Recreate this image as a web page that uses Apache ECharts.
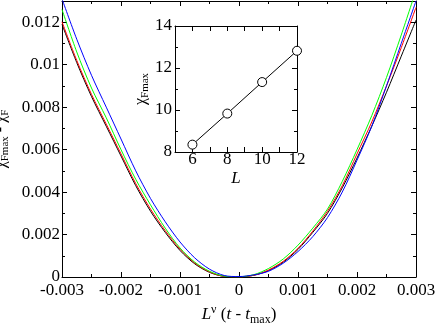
<!DOCTYPE html>
<html>
<head>
<meta charset="utf-8">
<script src="https://cdn.jsdelivr.net/npm/echarts@6/dist/echarts.min.js"></script>
<style>
  html, body { margin: 0; padding: 0; background: #fff; }
  #chart { width: 436px; height: 323px; }
</style>
</head>
<body>
<div id="chart"></div>
<script>
// main plot: chi_Fmax - chi_F vs L^nu (t - t_max)
const xVals = [-0.003, -0.00275, -0.0025, -0.00225, -0.002, -0.00175, -0.0015, -0.00125, -0.001, -0.00075, -0.0005, -0.00025,
  0, 0.00025, 0.0005, 0.00075, 0.001, 0.00125, 0.0015, 0.00175, 0.002, 0.00225, 0.0025, 0.00275, 0.003];
const blackVals = [0.0119, 0.0101, 0.0085, 0.0071, 0.0057, 0.0043, 0.0031, 0.0021, 0.00125, 0.00062, 0.00022, 0.00003,
  0.00001, 0.00008, 0.0003, 0.0007, 0.0013, 0.0021, 0.0030, 0.0042, 0.0056, 0.0071, 0.0087, 0.0104, 0.0121];
const redVals = [0.01202, 0.0102, 0.0086, 0.0072, 0.0058, 0.0044, 0.0032, 0.00218, 0.00131, 0.00066, 0.00024, 0.00003,
  0.00001, 0.00008, 0.00033, 0.00074, 0.00135, 0.00216, 0.0031, 0.0043, 0.0058, 0.0073, 0.0090, 0.0108, 0.0127];
const greenVals = [0.0126, 0.0106, 0.0089, 0.0075, 0.006, 0.0046, 0.0034, 0.0023, 0.00137, 0.0007, 0.00027, 0.00004,
  0.00001, 0.00011, 0.0004, 0.00085, 0.0015, 0.0023, 0.0032, 0.0045, 0.006, 0.0076, 0.0094, 0.0114, 0.0135];
const blueVals = [0.0131, 0.0112, 0.0095, 0.008, 0.0065, 0.005, 0.0037, 0.0026, 0.00165, 0.0009, 0.00037, 0.00007,
  0.00002, 0.0001, 0.00027, 0.00065, 0.0012, 0.0019, 0.0028, 0.004, 0.0055, 0.0071, 0.009, 0.011, 0.013];

// inset: chi_Fmax vs L
const insetL = [6, 8, 10, 12];
const insetChi = [8.35, 9.83, 11.33, 12.82];

const FONT = '"Times New Roman", "Liberation Serif", serif';
const AX = '#000';

const pairs = (ys) => xVals.map((x, i) => [x, ys[i]]);

const rich = {
  n: { fontFamily: FONT, fontSize: 17, color: '#000' },
  it: { fontFamily: FONT, fontSize: 17, fontStyle: 'italic', color: '#000' },
  sub: { fontFamily: FONT, fontSize: 12, color: '#000', padding: [10, 0, 0, 0] },
  sup: { fontFamily: FONT, fontSize: 12, color: '#000', padding: [0, 0, 10, 0] },
  yn: { fontFamily: FONT, fontSize: 16, color: '#000' },
  ysub: { fontFamily: FONT, fontSize: 11, color: '#000', padding: [9, 0, 0, 0] }
};

const frameAxis = (extra) => Object.assign({
  type: 'value',
  axisLine: { show: true, onZero: false, lineStyle: { color: AX, width: 1 } },
  axisTick: { show: true, inside: true, length: 5, lineStyle: { color: AX } },
  minorTick: { show: true, splitNumber: 2, length: 3, lineStyle: { color: AX } },
  splitLine: { show: false },
  minorSplitLine: { show: false },
  axisLabel: { show: false }
}, extra);

const lbl = { show: true, fontFamily: FONT, fontSize: 17, color: '#000' };

const lineSeries = (ys, color) => ({
  type: 'line', xAxisIndex: 0, yAxisIndex: 0, data: pairs(ys),
  smooth: 0.3, showSymbol: false,
  lineStyle: { color: color, width: 1 }
});

const chart = echarts.init(document.getElementById('chart'));
chart.setOption({
  backgroundColor: '#fff',
  animation: false,
  grid: [
    { left: 62, right: 20, top: 1, bottom: 46, outerBoundsMode: 'none' },
    { left: 175, top: 26, width: 122, height: 126, show: true, backgroundColor: '#fff', borderWidth: 0, z: 5, outerBoundsMode: 'none' }
  ],
  xAxis: [
    frameAxis({
      gridIndex: 0, min: -0.003, max: 0.003, interval: 0.001,
      axisLabel: Object.assign({}, lbl, { margin: 5 }),
      name: '{it|L}{sup|ν}{n| (}{it|t}{n| - }{it|t}{sub|max}{n|)}',
      nameLocation: 'middle', nameGap: 25,
      nameTextStyle: { rich: rich }
    }),
    frameAxis({ gridIndex: 0, position: 'top', min: -0.003, max: 0.003, interval: 0.001 }),
    frameAxis({
      gridIndex: 1, min: 5, max: 12, interval: 1, z: 6,
      minorTick: { show: false },
      axisLabel: Object.assign({}, lbl, { margin: -1, formatter: v => (v % 2 === 0 ? String(v) : '') }),
      name: '{it|L}', nameLocation: 'middle', nameGap: 18,
      nameTextStyle: { rich: rich }
    }),
    frameAxis({ gridIndex: 1, position: 'top', min: 5, max: 12, interval: 1, z: 6, minorTick: { show: false } })
  ],
  yAxis: [
    frameAxis({
      gridIndex: 0, min: 0, max: 0.013, interval: 0.002,
      axisLabel: Object.assign({}, lbl, { margin: 2, showMaxLabel: false }),
      name: '{yn|χ}{ysub|Fmax}{yn| - χ}{ysub|F}',
      nameLocation: 'middle', nameGap: 45,
      nameTextStyle: { rich: rich }
    }),
    frameAxis({ gridIndex: 0, position: 'right', min: 0, max: 0.013, interval: 0.002 }),
    frameAxis({
      gridIndex: 1, min: 8, max: 14, interval: 2, z: 6,
      axisLabel: Object.assign({}, lbl, { margin: 3 }),
      name: '{yn|χ}{ysub|Fmax}', nameLocation: 'middle', nameGap: 24,
      nameTextStyle: { rich: rich }
    }),
    frameAxis({ gridIndex: 1, position: 'right', min: 8, max: 14, interval: 2, z: 6 })
  ],
  series: [
    lineSeries(blackVals, '#000'),
    lineSeries(redVals, '#ff0000'),
    lineSeries(greenVals, '#00ff00'),
    lineSeries(blueVals, '#0000ff'),
    {
      type: 'line', xAxisIndex: 2, yAxisIndex: 2, z: 7,
      data: insetL.map((l, i) => [l, insetChi[i]]),
      symbol: 'circle', symbolSize: 9,
      lineStyle: { color: '#000', width: 1 },
      itemStyle: { color: '#fff', borderColor: '#000', borderWidth: 1 }
    }
  ]
});
</script>
</body>
</html>
